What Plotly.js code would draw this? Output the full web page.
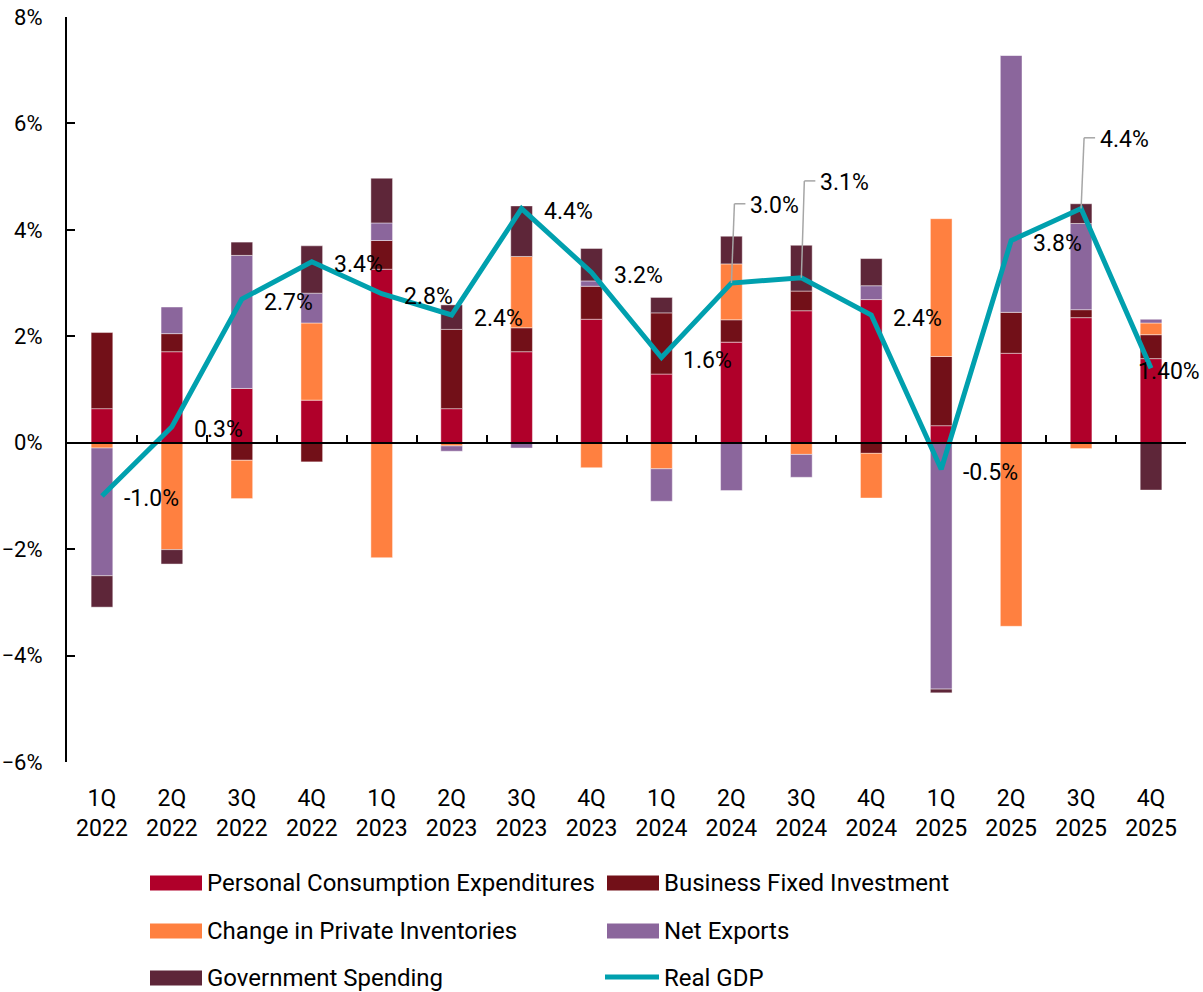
<!DOCTYPE html>
<html>
<head>
<meta charset="utf-8">
<script src="https://cdn.plot.ly/plotly-3.0.1.min.js"></script>
<style>
  html, body { margin: 0; padding: 0; background: #ffffff; }
  #chart { width: 1203px; height: 992px; }
</style>
</head>
<body>
<div id="chart"></div>
<script>
// ---- data ----
const quarters = ["1Q","2Q","3Q","4Q","1Q","2Q","3Q","4Q","1Q","2Q","3Q","4Q","1Q","2Q","3Q","4Q"];
const years    = ["2022","2022","2022","2022","2023","2023","2023","2023","2024","2024","2024","2024","2025","2025","2025","2025"];

const pce       = [0.64, 1.71, 1.02, 0.80, 3.26, 0.64, 1.71, 2.32, 1.29, 1.89, 2.48, 2.69, 0.32, 1.68, 2.35, 1.58];
const bfi       = [1.43, 0.34, -0.33, -0.36, 0.54, 1.49, 0.45, 0.62, 1.15, 0.42, 0.37, -0.20, 1.30, 0.77, 0.15, 0.45];
const inventory = [-0.10, -2.01, -0.72, 1.45, -2.16, -0.06, 1.34, -0.47, -0.49, 1.05, -0.22, -0.84, 2.59, -3.45, -0.11, 0.22];
const netExports= [-2.40, 0.50, 2.50, 0.56, 0.33, -0.10, -0.10, 0.10, -0.61, -0.90, -0.43, 0.26, -4.63, 4.83, 1.62, 0.07];
const govSpend  = [-0.59, -0.27, 0.25, 0.89, 0.84, 0.46, 0.95, 0.61, 0.29, 0.52, 0.86, 0.51, -0.07, 0.00, 0.37, -0.89];
const realGDP   = [-1.0, 0.3, 2.7, 3.4, 2.8, 2.4, 4.4, 3.2, 1.6, 3.0, 3.1, 2.4, -0.5, 3.8, 4.4, 1.4];
const gdpLabels = ["-1.0%","0.3%","2.7%","3.4%","2.8%","2.4%","4.4%","3.2%","1.6%","3.0%","3.1%","2.4%","-0.5%","3.8%","4.4%","1.40%"];

const seriesNames = ["Personal Consumption Expenditures","Business Fixed Investment","Change in Private Inventories","Net Exports","Government Spending"];
const gdpName = "Real GDP";

// ---- styles / positions ----
const colors = ["#B0002A","#721018","#FF8040","#8B669C","#5E2639"];
const gdpColor = "#00A0AE";
const FONT = "Roboto, sans-serif";
// labels lifted with an elbow leader line: index -> rise (in % units) above point
const leaderRise = {9: 1.49, 10: 1.82, 14: 1.33};
const labelShift = {15: -35};

const W = 1203, H = 992;
const M = { l: 67, r: 17, t: 17, b: 230 };
const PW = W - M.l - M.r, PH = H - M.t - M.b;
const px2x = p => (p - M.l) / PW;
const px2y = p => (H - M.b - p) / PH;

// legend grid (pixel positions of the legend block)
const legendColX = [150, 607];
const legendRowY = [883, 931, 978];
const swatchW = 52, swatchH = 15, swatchTextGap = 3;

const cats = quarters.map((q, i) => q + "<br>" + years[i]);
const seriesData = [pce, bfi, inventory, netExports, govSpend];

const traces = seriesData.map((vals, k) => ({
  type: "bar",
  name: seriesNames[k],
  x: cats,
  y: vals,
  xaxis: "x",
  yaxis: "y",
  marker: { color: colors[k], line: { color: "rgba(255,255,255,0.55)", width: 0.8 } },
  hoverinfo: "skip"
}));

traces.push({
  type: "scatter",
  mode: "lines",
  name: gdpName,
  x: cats,
  y: realGDP,
  xaxis: "x2",
  yaxis: "y",
  line: { color: gdpColor, width: 5 },
  hoverinfo: "skip"
});

const annotations = [];
const shapes = [];
realGDP.forEach((v, i) => {
  if (leaderRise[i] !== undefined) {
    const ly = v + leaderRise[i];
    shapes.push({
      type: "line", xref: "x", yref: "y", xsizemode: "pixel", xanchor: i,
      x0: 0, x1: 3, y0: v, y1: ly,
      line: { color: "#A6A6A6", width: 1.5 }
    });
    shapes.push({
      type: "line", xref: "x", yref: "y", xsizemode: "pixel", xanchor: i,
      x0: 3, x1: 14, y0: ly, y1: ly,
      line: { color: "#A6A6A6", width: 1.5 }
    });
    annotations.push({
      x: i, y: ly, xref: "x", yref: "y", text: gdpLabels[i], showarrow: false,
      xanchor: "left", yanchor: "middle", xshift: 17, yshift: -2,
      font: { family: FONT, size: 23, color: "#000" }
    });
  } else {
    annotations.push({
      x: i, y: v, xref: "x", yref: "y", text: gdpLabels[i], showarrow: false,
      xanchor: "left", yanchor: "middle", xshift: 20 + (labelShift[i] || 0), yshift: -3,
      font: { family: FONT, size: 23, color: "#000" }
    });
  }
});

// legend entries (names and colours from the series arrays)
const legendItems = seriesNames.map((n, k) => ({ name: n, color: colors[k], kind: "bar" }));
legendItems.push({ name: gdpName, color: gdpColor, kind: "line" });
legendItems.forEach((item, idx) => {
  const col = idx % 2, row = Math.floor(idx / 2);
  const x0 = legendColX[col], cy = legendRowY[row];
  if (item.kind === "bar") {
    shapes.push({
      type: "rect", xref: "paper", yref: "paper",
      x0: px2x(x0), x1: px2x(x0 + swatchW),
      y0: px2y(cy - swatchH / 2), y1: px2y(cy + swatchH / 2),
      fillcolor: item.color, line: { width: 0 }, layer: "above"
    });
  } else {
    shapes.push({
      type: "line", xref: "paper", yref: "paper",
      x0: px2x(x0 - 2), x1: px2x(x0 + swatchW),
      y0: px2y(cy - 1), y1: px2y(cy - 1),
      line: { color: item.color, width: 5 }, layer: "above"
    });
  }
  annotations.push({
    xref: "paper", yref: "paper",
    x: px2x(x0 + swatchW + swatchTextGap), y: px2y(cy),
    xanchor: "left", yanchor: "middle", showarrow: false,
    text: item.name,
    font: { family: FONT, size: 24, color: "#000" }
  });
});

const layout = {
  width: W,
  height: H,
  margin: M,
  paper_bgcolor: "#ffffff",
  plot_bgcolor: "#ffffff",
  font: { family: FONT, size: 22, color: "#000" },
  barmode: "relative",
  bargap: 0.69,
  showlegend: false,
  xaxis: {
    type: "category",
    range: [-0.5, 15.5],
    showline: false,
    showgrid: false,
    zeroline: false,
    ticks: "",
    tickfont: { family: FONT, size: 23, color: "#000" },
    ticklabelstandoff: 20,
    fixedrange: true
  },
  xaxis2: {
    type: "category",
    overlaying: "x",
    anchor: "free",
    position: 6 / 14,
    range: [-0.5, 15.5],
    showline: true,
    linecolor: "#000",
    linewidth: 2,
    ticks: "inside",
    tickson: "boundaries",
    ticklen: 7,
    tickwidth: 2,
    tickcolor: "#000",
    showticklabels: false,
    showgrid: false,
    zeroline: false,
    fixedrange: true
  },
  yaxis: {
    range: [-6, 8],
    dtick: 2,
    tick0: 0,
    ticksuffix: "%",
    showline: true,
    linecolor: "#000",
    linewidth: 2,
    ticks: "inside",
    ticklen: 8,
    tickwidth: 2,
    tickcolor: "#000",
    showgrid: false,
    zeroline: false,
    ticklabelstandoff: 18,
    tickfont: { family: FONT, size: 22, color: "#000" },
    fixedrange: true
  },
  annotations: annotations,
  shapes: shapes
};

Plotly.newPlot("chart", traces, layout, { displayModeBar: false, staticPlot: true });
</script>
</body>
</html>
